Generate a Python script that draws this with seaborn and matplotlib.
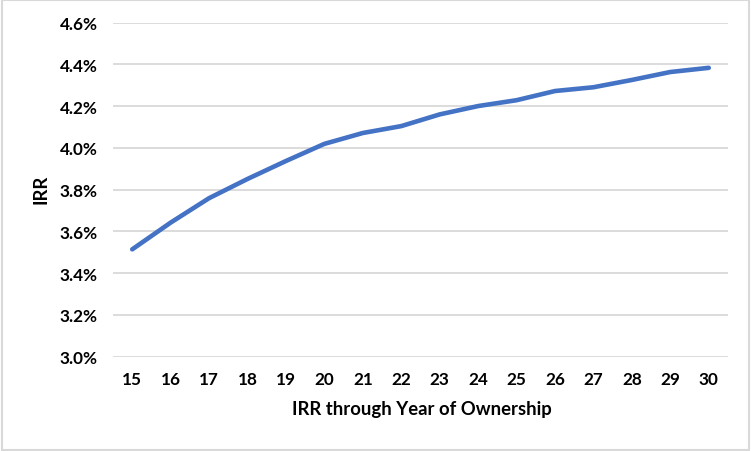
import matplotlib
matplotlib.use("Agg")
import matplotlib.pyplot as plt
import seaborn as sns
import pandas as pd
from matplotlib.ticker import FuncFormatter, MultipleLocator
from matplotlib.patches import Rectangle

years = [15, 16, 17, 18, 19, 20, 21, 22, 23, 24, 25, 26, 27, 28, 29, 30]
irr = [3.514, 3.642, 3.759, 3.851, 3.937, 4.019, 4.071, 4.104, 4.160, 4.200,
       4.228, 4.272, 4.290, 4.325, 4.363, 4.383]
x_label = "IRR through Year of Ownership"
y_label = "IRR"

sns.set_theme(style="white")
plt.rcParams['font.family'] = ['Lato', 'DejaVu Sans']

df = pd.DataFrame({"year": years, "irr": irr})

fig = plt.figure(figsize=(7.51, 4.52), dpi=100)
ax = fig.add_axes([113/751, 1 - 357.7/452, (728 - 113)/751, (357.7 - 23.5)/452])

sns.lineplot(data=df, x="year", y="irr", ax=ax, color="#4472C4", linewidth=3.3,
             solid_capstyle="round")

ax.set_xlim(14.5, 30.5)
ax.set_ylim(3.0, 4.6)
ax.yaxis.set_major_locator(MultipleLocator(0.2))
ax.set_xticks(years)
ax.yaxis.set_major_formatter(FuncFormatter(lambda v, p: f"{v:.1f}%"))
ax.grid(axis="y", color="#d9d9d9", linewidth=1.3)
ax.grid(axis="x", visible=False)
for s in ax.spines.values():
    s.set_visible(False)
ax.tick_params(axis="both", length=0, labelsize=12.3, colors="black")
ax.tick_params(axis="y", pad=11)
ax.tick_params(axis="x", pad=10)
for lab in ax.get_xticklabels() + ax.get_yticklabels():
    lab.set_fontweight("bold")

ax.set_xlabel(x_label, fontsize=13.3, fontweight="bold", color="black", va="center")
ax.set_ylabel(y_label, fontsize=13.3, fontweight="bold", color="black", va="center")
ax.xaxis.set_label_coords(421.5/751, 1 - 410/452, transform=fig.transFigure)
ax.yaxis.set_label_coords(40.7/751, 1 - 189/452, transform=fig.transFigure)

fig.patches.append(Rectangle((0.002, 0.003), 0.996, 0.994, transform=fig.transFigure,
                             fill=False, edgecolor="#d9d9d9", linewidth=1.5))

fig.savefig("out.png", dpi=100, facecolor="white")
